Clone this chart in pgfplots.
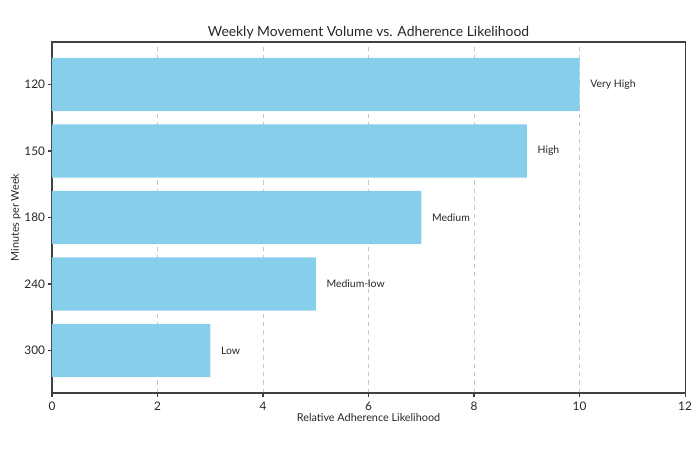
\documentclass[border=0pt]{standalone}
\usepackage{fontspec}
\setmainfont{Lato}
\usepackage{pgfplots}
\usepackage{pgfplotstable}
\pgfplotsset{compat=1.18}

\definecolor{skyblue}{HTML}{87CEEB}
\definecolor{spine}{HTML}{404040}
\definecolor{gridgray}{HTML}{C8C8C8}

\pgfplotstableread[col sep=comma]{
value,pos,label
10,4,Very High
9,3,High
7,2,Medium
5,1,Medium-low
3,0,Low
}\adherence

\begin{document}
\begin{tikzpicture}
\useasboundingbox (0,0) rectangle (504pt,324pt);
\begin{axis}[
    at={(37.44pt,41.04pt)}, anchor=south west,
    width=455.8pt, height=252.7pt,
    scale only axis,
    xbar, bar width=0.8, bar shift=0pt,
    xmin=0, xmax=12,
    ymin=-0.64, ymax=4.64,
    xtick={0,2,4,6,8,10,12},
    ytick={0,1,2,3,4},
    yticklabels={300,240,180,150,120},
    xmajorgrids, ymajorgrids=false,
    grid style={dashed, gridgray, line width=0.6pt},
    axis line style={spine, line width=0.8pt},
    tick style={spine, line width=0.8pt},
    tick align=outside,
    xtick pos=bottom, ytick pos=left,
    major tick length=3pt,
    /pgf/number format/assume math mode=true,
    ticklabel style={font=\fontsize{8.5}{10}\selectfont, text=black!85},
    yticklabel style={xshift=1.5pt},
    title={Weekly Movement Volume vs. Adherence Likelihood},
    title style={font=\fontsize{10}{12}\selectfont, text=black!85,
        at={(axis description cs:0.5,1)}, anchor=base, yshift=-1.7pt},
    xlabel={Relative Adherence Likelihood},
    xlabel style={at={(axis description cs:0.5,0)}, anchor=base, yshift=-20.2pt},
    ylabel={Minutes per Week},
    ylabel style={at={(axis description cs:0,0.5)}, anchor=center, yshift=26pt},
    label style={font=\fontsize{7.8}{9}\selectfont, text=black!85},
    nodes near coords,
    point meta=explicit symbolic,
    every node near coord/.append style={anchor=west, inner sep=0pt, xshift=7.6pt,
        font=\fontsize{7.5}{9}\selectfont, text=black!85},
]
\addplot[fill=skyblue, draw=none] table[x=value, y=pos, meta=label] {\adherence};
\end{axis}
\end{tikzpicture}
\end{document}
